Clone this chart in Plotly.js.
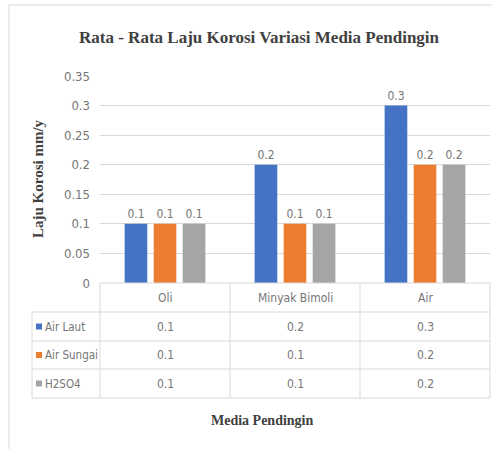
<!DOCTYPE html>
<html>
<head>
<meta charset="utf-8">
<script src="https://cdn.plot.ly/plotly-3.0.1.min.js"></script>
<style>html,body{margin:0;padding:0;background:#fff;}#chart{width:492px;height:449px;}</style>
</head>
<body>
<div id="chart"></div>
<script>
// ---- data ----
const categories = ["Oli", "Minyak Bimoli", "Air"];
const seriesNames = ["Air Laut", "Air Sungai", "H2SO4"];
const airLaut = [0.1, 0.2, 0.3];
const airSungai = [0.1, 0.1, 0.2];
const h2so4 = [0.1, 0.1, 0.2];
const yTicks = [0, 0.05, 0.1, 0.15, 0.2, 0.25, 0.3, 0.35];
const yTickLabels = ["0", "0.05", "0.1", "0.15", "0.2", "0.25", "0.3", "0.35"];
const titleText = "Rata - Rata Laju Korosi Variasi Media Pendingin";
const yTitle = "Laju Korosi mm/y";
const xTitle = "Media Pendingin";

// ---- styling ----
const colors = ["#4472C4", "#ED7D31", "#A5A5A5"];
const seriesValues = [airLaut, airSungai, h2so4];
const W = 492, H = 449, L = 100, R = 490, T = 76, B = 283;
const px = x => (x - L) / (R - L);
const py = y => (B - y) / (B - T);
const narrow = "'Liberation Sans Narrow', 'DejaVu Sans Condensed', sans-serif";
const serif = "'Liberation Serif', 'DejaVu Serif', serif";
const txt = "#767676";
const grid = "#d9d9d9";

const traces = seriesNames.map((n, i) => ({
  type: "bar", name: n, x: categories, y: seriesValues[i],
  marker: {color: colors[i]},
  text: seriesValues[i].map(v => String(v)),
  textposition: "outside", cliponaxis: false,
  textfont: {family: narrow, size: 12, color: txt},
  hoverinfo: "x+y+name"
}));

const rowTop = [283, 312, 341, 369, 398];
const shapes = [];
const annotations = [];
// outer frame (top + left)
shapes.push({type: "line", xref: "paper", yref: "paper", x0: px(9), x1: px(492), y0: py(5), y1: py(5), line: {color: grid, width: 1}});
shapes.push({type: "line", xref: "paper", yref: "paper", x0: px(9), x1: px(9), y0: py(5), y1: py(449), line: {color: grid, width: 1}});
// table horizontal lines
shapes.push({type: "line", xref: "paper", yref: "paper", x0: px(L), x1: px(R), y0: py(rowTop[0]), y1: py(rowTop[0]), line: {color: grid, width: 1}});
for (let r = 1; r < rowTop.length; r++) {
  shapes.push({type: "line", xref: "paper", yref: "paper", x0: px(32), x1: px(R), y0: py(rowTop[r]), y1: py(rowTop[r]), line: {color: grid, width: 1}});
}
// table vertical lines
const colW = (R - L) / categories.length;
for (let c = 0; c <= categories.length; c++) {
  const xx = L + c * colW;
  shapes.push({type: "line", xref: "paper", yref: "paper", x0: px(xx), x1: px(xx), y0: py(rowTop[0]), y1: py(rowTop[4]), line: {color: grid, width: 1}});
}
shapes.push({type: "line", xref: "paper", yref: "paper", x0: px(32), x1: px(32), y0: py(rowTop[1]), y1: py(rowTop[4]), line: {color: grid, width: 1}});
// header
categories.forEach((c, i) => {
  annotations.push({xref: "x", yref: "paper", x: c, y: py((rowTop[0] + rowTop[1]) / 2), text: c, showarrow: false,
    font: {family: narrow, size: 12, color: txt}, xanchor: "center", yanchor: "middle"});
});
// rows
seriesNames.forEach((n, r) => {
  const yc = py((rowTop[r + 1] + rowTop[r + 2]) / 2);
  shapes.push({type: "rect", xref: "paper", yref: "paper", x0: px(36), x1: px(42), y0: yc - 3 / (B - T), y1: yc + 3 / (B - T),
    fillcolor: colors[r], line: {width: 0}});
  annotations.push({xref: "paper", yref: "paper", x: px(43), y: yc, text: n, showarrow: false,
    font: {family: narrow, size: 11.5, color: txt}, xanchor: "left", yanchor: "middle"});
  categories.forEach((c, i) => {
    annotations.push({xref: "x", yref: "paper", x: c, y: yc, text: String(seriesValues[r][i]), showarrow: false,
      font: {family: narrow, size: 12, color: txt}, xanchor: "center", yanchor: "middle"});
  });
});
// titles
annotations.push({xref: "paper", yref: "paper", x: px(259), y: py(37), text: "<b>" + titleText + "</b>", showarrow: false,
  font: {family: serif, size: 17, color: "#404040"}, xanchor: "center", yanchor: "middle"});
annotations.push({xref: "paper", yref: "paper", x: px(38), y: py(179), text: "<b>" + yTitle + "</b>", showarrow: false, textangle: -90,
  font: {family: serif, size: 15, color: "#404040"}, xanchor: "center", yanchor: "middle"});
annotations.push({xref: "paper", yref: "paper", x: px(262), y: py(420), text: "<b>" + xTitle + "</b>", showarrow: false,
  font: {family: serif, size: 14, color: "#404040"}, xanchor: "center", yanchor: "middle"});

const layout = {
  width: W, height: H,
  margin: {l: L, r: W - R, t: T, b: H - B, pad: 0},
  paper_bgcolor: "#fff", plot_bgcolor: "#fff",
  showlegend: false,
  barmode: "group", bargap: 0.33, bargroupgap: 0.22,
  xaxis: {type: "category", showticklabels: false, showgrid: false, zeroline: false, showline: false, ticks: "", fixedrange: true},
  yaxis: {range: [0, 0.35], tickvals: yTicks, ticktext: yTickLabels, showgrid: true, gridcolor: grid, gridwidth: 1,
    zeroline: false, showline: false, ticks: "", ticklabelstandoff: 9,
    tickfont: {family: narrow, size: 13, color: txt}, fixedrange: true},
  shapes: shapes,
  annotations: annotations
};

Plotly.newPlot("chart", traces, layout, {displayModeBar: false, staticPlot: true});
</script>
</body>
</html>
